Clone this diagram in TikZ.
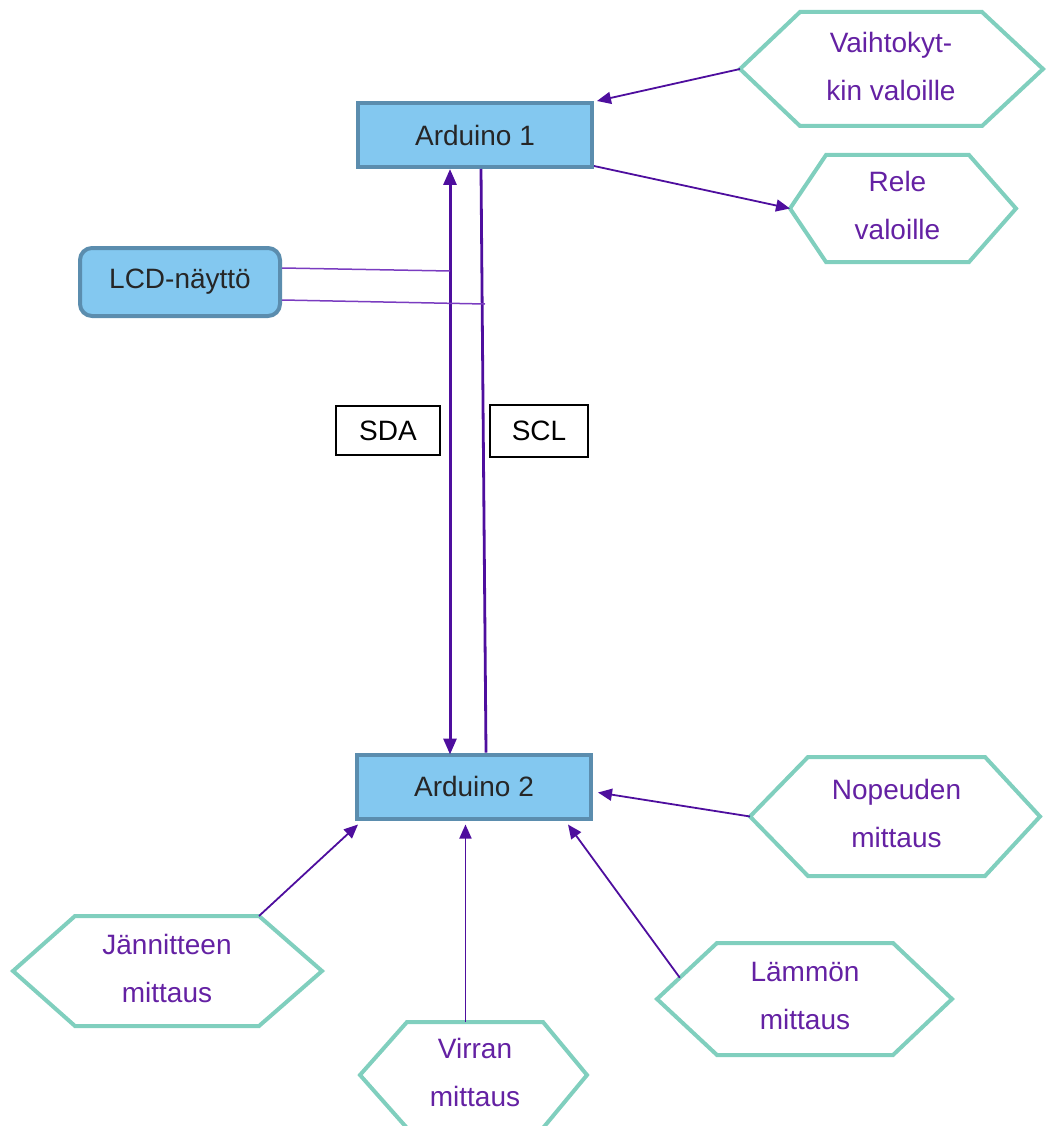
\documentclass[tikz,border=0pt]{standalone}
\usepackage{fontspec}
\setmainfont{Liberation Sans}
\usetikzlibrary{arrows.meta,calc}
\definecolor{hexline}{HTML}{80CFBE}
\definecolor{boxfill}{HTML}{83C8F0}
\definecolor{boxline}{HTML}{5B8DAE}
\definecolor{purptext}{HTML}{6421A3}
\definecolor{conncol}{HTML}{4E0E9E}
\definecolor{lcdcol}{HTML}{7A3CC0}
\newcommand\myhexagon[8]{%
  \draw[hexshape] (#2,{(#6+#7)/2}) -- (#3,#6) -- (#4,#6) -- (#5,{(#6+#7)/2}) -- (#4,#7) -- (#3,#7) -- cycle;
  \coordinate (#1-l) at (#2,{(#6+#7)/2});
  \coordinate (#1-tl) at (#3,#6);
  \coordinate (#1-tr) at (#4,#6);
  \coordinate (#1-t) at ({(#3+#4)/2},#6);
  \node[hextext] (#1) at ({(#3+#4)/2},{(#6+#7)/2-3}) {#8};
}
\begin{document}
\begin{tikzpicture}[x=1pt,y=-1pt,
  box/.style={draw=boxline,fill=boxfill,line width=4pt,minimum width=234pt,minimum height=64pt,
    font=\fontsize{28}{32}\selectfont,text=black!85},
  hexshape/.style={draw=hexline,line width=4pt,line join=miter},
  hextext/.style={align=center,text=purptext,font=\fontsize{28}{48}\selectfont},
  lblbox/.style={draw=black,line width=1.2pt,fill=white,font=\fontsize{28}{32}\selectfont,inner sep=0pt},
  conn/.style={draw=conncol,line width=1.8pt},
  tip/.style={-{Triangle[length=14pt,width=12pt]}},
  lcdline/.style={draw=lcdcol,line width=1.5pt}]
\useasboundingbox (0,0) rectangle (1046,1126);

% main nodes
\node[box] (a1) at (475,135) {Arduino 1};
\node[box] (a2) at (474,786.5) {Arduino 2};
\node[box,rounded corners=12pt,minimum width=200pt,minimum height=68pt] (lcd) at (180,282) {LCD-näyttö};
\node[lblbox,minimum width=104pt,minimum height=49pt] (sda) at (388,430.5) {SDA};
\node[lblbox,minimum width=98pt,minimum height=52pt] (scl) at (539,431) {SCL};

% hexagons
\myhexagon{vh}{740}{800}{982}{1043}{12}{126}{Vaihtokyt-\\kin valoille}
\myhexagon{rl}{790}{826}{969}{1016}{155}{262}{Rele\\valoille}
\myhexagon{np}{750}{808}{985}{1040}{757}{876}{Nopeuden\\mittaus}
\myhexagon{jn}{13}{75}{259}{322}{916}{1026}{Jännitteen\\mittaus}
\myhexagon{vr}{360}{407}{543}{587}{1022}{1128}{Virran\\mittaus}
\myhexagon{lm}{657}{717}{893}{952}{943}{1055}{Lämmön\\mittaus}

% helper coordinates
\coordinate (sdax) at (450,0);
\coordinate (scltop) at (481,0);
\coordinate (sclbot) at (486,0);
\coordinate (sdaj) at (450,271);
\coordinate (sclj) at (485,304);
\coordinate (lmx) at (568,0);
\coordinate (lmstart) at ($(lm-l)!0.38!(lm-tl)$);
\coordinate (vrstart) at ($(vr-tl)!0.43!(vr-tr)$);

% bus lines
\draw[conn,line width=3pt,{Triangle[length=16pt,width=13pt]}-{Triangle[length=16pt,width=13pt]}]
  (a1.south -| sdax) -- ([yshift=-2pt]a2.north -| sdax);
\draw[conn,line width=2.8pt] (a1.south -| scltop) -- (a2.north -| sclbot);
\draw[lcdline] ([yshift=14pt]lcd.east) -- (sdaj);
\draw[lcdline] ([yshift=-18pt]lcd.east) -- (sclj);

% top connectors
\draw[conn,tip] (vh-l) -- ([xshift=3pt]a1.north east);
\draw[conn,tip] ([yshift=3pt]a1.south east) -- (rl-l);

% bottom connectors
\draw[conn,tip] (np-l) -- ([shift={(5pt,-6pt)}]a2.east);
\draw[conn,tip] (jn-tr) -- ([shift={(3pt,-4pt)}]a2.south west);
\draw[conn,tip] (vrstart) -- ([yshift=-4pt]a2.south -| vrstart);
\draw[conn,tip] (lmstart) -- ([yshift=-4pt]a2.south -| lmx);
\end{tikzpicture}
\end{document}
